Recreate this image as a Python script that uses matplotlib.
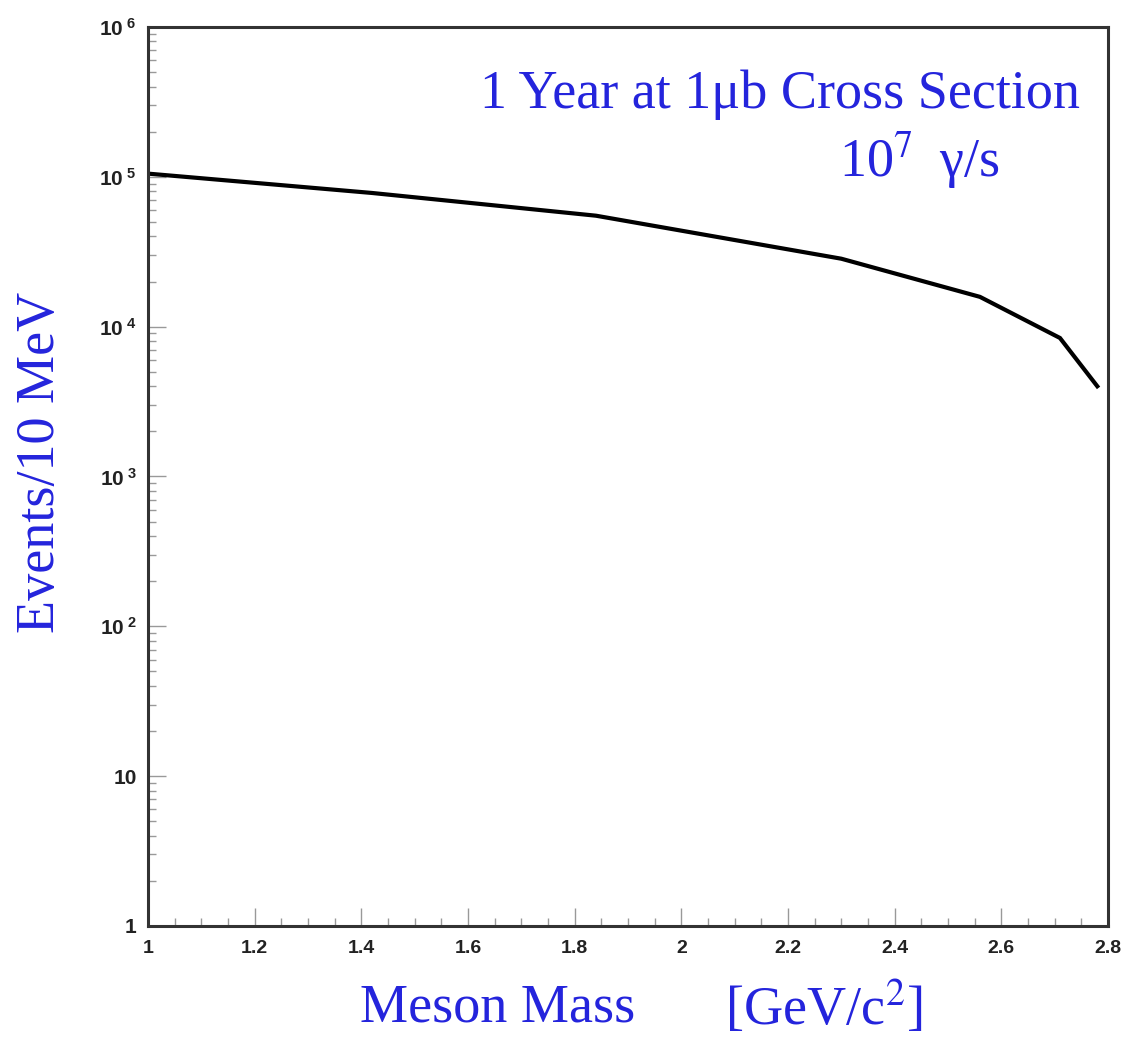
import numpy as np
import matplotlib
matplotlib.use("Agg")
import matplotlib.pyplot as plt
from matplotlib.ticker import LogLocator, MultipleLocator, NullFormatter

# values
mass = [1.0, 1.42, 1.84, 2.30, 2.56, 2.71, 2.78]
events = [1.05e5, 7.8e4, 5.5e4, 2.84e4, 1.58e4, 8.4e3, 4.0e3]

x_ticks = [1, 1.2, 1.4, 1.6, 1.8, 2, 2.2, 2.4, 2.6, 2.8]
x_labels = ["1", "1.2", "1.4", "1.6", "1.8", "2", "2.2", "2.4", "2.6", "2.8"]
y_ticks = [1, 10, 1e2, 1e3, 1e4, 1e5, 1e6]
y_labels = ["1", "10", r"$\mathregular{10^{\ 2}}$", r"$\mathregular{10^{\ 3}}$",
            r"$\mathregular{10^{\ 4}}$", r"$\mathregular{10^{\ 5}}$",
            r"$\mathregular{10^{\ 6}}$"]

blue = "#2424dc"
plt.rcParams["mathtext.fontset"] = "custom"
plt.rcParams["mathtext.rm"] = "Liberation Sans:bold"
plt.rcParams["mathtext.it"] = "Liberation Sans:bold"
plt.rcParams["mathtext.bf"] = "Liberation Sans:bold"

fig = plt.figure(figsize=(11.27, 10.41), dpi=100)
ax = fig.add_axes([0.1313, 0.1105, 0.8518, 0.8636])

ax.plot(mass, events, color="black", lw=3.0, solid_joinstyle="miter")

ax.set_yscale("log")
ax.set_xlim(1, 2.8)
ax.set_ylim(1, 1e6)

ax.set_yticks(y_ticks)
ax.set_yticklabels(y_labels)
ax.yaxis.set_minor_locator(LogLocator(base=10, subs=np.arange(2, 10), numticks=20))
ax.yaxis.set_minor_formatter(NullFormatter())

ax.set_xticks(x_ticks)
ax.set_xticklabels(x_labels)
ax.xaxis.set_minor_locator(MultipleLocator(0.05))

for sp in ax.spines.values():
    sp.set_linewidth(2.2)
    sp.set_color("#333333")

ax.tick_params(which="both", direction="in", color="#999999", width=1.0,
               top=False, right=False)
ax.tick_params(which="major", length=13)
ax.tick_params(which="minor", length=6)
ax.tick_params(axis="y", which="major", pad=8)
ax.tick_params(axis="x", which="major", pad=10)
for lab in ax.get_xticklabels():
    lab.set_fontfamily("Liberation Sans")
    lab.set_fontweight("bold")
    lab.set_fontsize(14)
    lab.set_color("#222222")
for lab in ax.get_yticklabels():
    lab.set_fontfamily("Liberation Sans")
    lab.set_fontweight("bold")
    lab.set_fontsize(15)
    lab.set_color("#222222")

serif = dict(family="Liberation Serif", color=blue)
fig.text(0.958, 0.909, "1 Year at 1\u03bcb Cross Section", ha="right", va="center",
         fontsize=39, **serif)
fig.text(0.887, 0.846, "10$^{7}$\u2009 \u03b3/s", ha="right", va="center",
         fontsize=39, family="Liberation Serif", color=blue,
         math_fontfamily="stix")
fig.text(0.036, 0.556, "Events/10 MeV", rotation=90, ha="center", va="center",
         fontsize=39, **serif)
fig.text(0.319, 0.031, "Meson Mass", ha="left", va="center", fontsize=39, **serif)
fig.text(0.643, 0.031, "[GeV/c$^{2}$]", ha="left", va="center",
         fontsize=39, family="Liberation Serif", color=blue,
         math_fontfamily="stix")

fig.savefig("out.png", dpi=100)
